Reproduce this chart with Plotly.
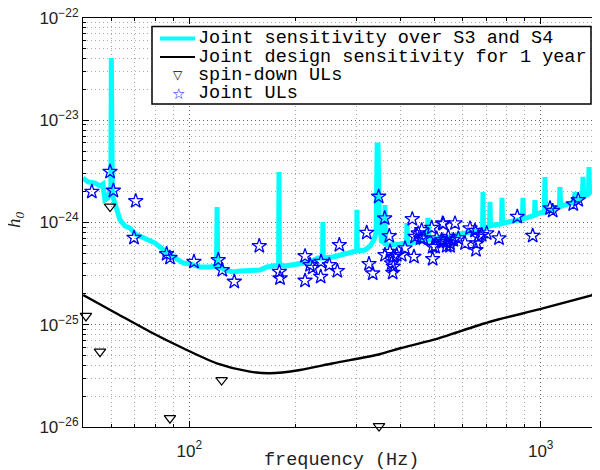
import plotly.graph_objects as go

# ---------------- data ----------------
# Joint sensitivity over S3 and S4 (cyan)
sens_f = [49.8, 51.5, 53.9, 55.7, 56.8, 57.5, 58.7, 59.5, 59.8, 60.0,
          60.2, 60.4, 61.4, 62.7, 63.5, 65.6, 67.8, 70.1, 72.4, 74.8,
          77.3, 79.9, 82.5, 86.4, 91.1, 96.0, 100.5, 107.3, 114.5, 119.5,
          120.0, 120.5, 126.4, 133.1, 139.4, 148.9, 158.9, 166.4, 175.4, 179.5,
          180.0, 180.5, 187.2, 196.0, 206.6, 220.5, 232.4, 239.4, 240.0, 240.6,
          256.4, 268.5, 286.6, 299.3, 300.0, 300.7, 316.2, 326.8, 335.4, 340.0,
          342.5, 344.5, 347.0, 349.0, 352.0, 355.8, 359.5, 360.5, 361.5, 365.2,
          384.9, 397.8, 415.0, 416.5, 418.0, 444.6, 474.8, 477.9, 481.0, 516.9,
          552.0, 589.3, 629.4, 663.2, 683.0, 685.3, 687.6, 698.9, 715.0, 717.5,
          720.0, 736.5, 773.5, 776.2, 779.0, 796.8, 834.1, 887.0, 890.4, 894.0,
          914.1, 950.7, 960.0, 963.3, 966.5, 995.5, 1024.0, 1028.6, 1033.0, 1062.8,
          1130.0, 1134.8, 1140.0, 1172.6, 1211.7, 1247.0, 1252.0, 1257.0, 1276.9, 1314.0,
          1319.5, 1325.0, 1345.7, 1367.0, 1372.4, 1378.0, 1408.9, 1446.3, 1470.0, 1476.0]
sens_h = [2.72e-24, 2.49e-24, 2.43e-24, 2.28e-24, 2.38e-24, 1.66e-24, 1.74e-24, 2.08e-24, 2.0e-24, 4.06e-23,
          1.9e-24, 1.86e-24, 1.55e-24, 1.27e-24, 1.06e-24, 9.24e-25, 8.84e-25, 7.72e-25, 7.38e-25, 7.05e-25,
          6.74e-25, 6.30e-25, 5.76e-25, 5.03e-25, 4.50e-25, 4.02e-25, 3.93e-25, 3.67e-25, 3.67e-25, 3.75e-25,
          1.42e-24, 3.75e-25, 3.43e-25, 3.28e-25, 3.35e-25, 3.35e-25, 3.43e-25, 3.67e-25, 3.75e-25, 3.84e-25,
          3.12e-24, 3.93e-25, 3.75e-25, 3.84e-25, 4.02e-25, 4.11e-25, 4.50e-25, 4.50e-25, 1.01e-24, 4.50e-25,
          4.60e-25, 4.81e-25, 5.15e-25, 5.26e-25, 1.33e-24, 5.26e-25, 5.38e-25, 5.89e-25, 6.74e-25, 8.0e-25,
          5.73e-24, 5.73e-24, 1.1e-24, 7.5e-25, 6.6e-25, 6.45e-25, 6.3e-25, 1.48e-24, 6.2e-25, 6.02e-25,
          6.02e-25, 6.16e-25, 6.30e-25, 9.89e-25, 6.30e-25, 6.45e-25, 6.74e-25, 1.11e-24, 6.74e-25, 7.05e-25,
          7.21e-25, 7.72e-25, 8.07e-25, 8.26e-25, 8.4e-25, 1.99e-24, 8.6e-25, 9.0e-25, 9.2e-25, 1.59e-24,
          9.3e-25, 9.45e-25, 9.7e-25, 1.74e-24, 9.8e-25, 1.0e-24, 1.03e-24, 1.08e-24, 1.74e-24, 1.09e-24,
          1.11e-24, 1.16e-24, 1.18e-24, 1.66e-24, 1.19e-24, 1.24e-24, 1.27e-24, 2.79e-24, 1.28e-24, 1.33e-24,
          1.42e-24, 2.22e-24, 1.44e-24, 1.48e-24, 1.55e-24, 1.6e-24, 1.99e-24, 1.62e-24, 1.68e-24, 1.75e-24,
          2.79e-24, 1.78e-24, 1.85e-24, 1.9e-24, 3.49e-24, 1.95e-24, 2.08e-24, 2.17e-24, 2.2e-24, 2.49e-24]

# Joint design sensitivity for 1 year (black)
design_f = [49.9, 62.1, 77.3, 96.1, 119.7, 148.8, 169.7, 206.6, 256.6, 350.0,
            397.9, 493.8, 717.5, 995.0, 1472.0]
design_h = [1.95e-25, 1.29e-25, 8.55e-26, 5.89e-26, 4.20e-26, 3.48e-26, 3.35e-26, 3.61e-26, 4.20e-26, 5.18e-26,
            5.89e-26, 7.10e-26, 1.07e-25, 1.42e-25, 2.03e-25]

# spin-down upper limits (triangles)
spin_f = [50.8, 55.7, 59.5, 88.1, 123.6, 346.7]
spin_h = [1.22e-25, 5.45e-26, 1.43e-24, 1.22e-26, 2.88e-26, 1.02e-26]

# Joint upper limits (stars)
ul_f = [52.8, 59.5, 60.8, 70.4, 69.6, 86.2, 88.1, 103.1, 120.9, 124.1,
        134.3, 158.2, 180.4, 181.2, 213.5, 213.5, 220.6, 224.5, 237.1, 236.6,
        250.3, 263.8, 267.3, 319.8, 324.6, 332.6, 345.9, 359.8, 370.8, 360.5,
        372.5, 380.7, 376.7, 380.7, 379.2, 389.3, 402.2, 411.0, 431.1, 435.9,
        438.8, 448.4, 458.5, 455.5, 463.4, 489.6, 492.8, 492.8, 526.1, 505.8,
        522.7, 540.1, 528.2, 570.4, 528.2, 545.8, 552.0, 564.1, 583.0, 500.2,
        540.1, 552.0, 609.1, 629.4, 650.1, 657.4, 654.4, 664.3, 679.3, 702.0,
        760.8, 857.9, 949.0, 1063.0, 1082.0, 1238.0, 1279.0]
ul_h = [2.00e-24, 3.14e-24, 2.05e-24, 1.62e-24, 7.10e-25, 4.92e-25, 4.52e-25, 4.13e-25, 4.30e-25, 3.43e-25,
        2.64e-25, 5.89e-25, 3.30e-25, 2.85e-25, 4.70e-25, 2.70e-25, 3.84e-25, 3.61e-25, 4.13e-25, 2.95e-25,
        3.84e-25, 3.36e-25, 6.03e-25, 7.95e-25, 3.93e-25, 3.18e-25, 1.79e-24, 1.10e-24, 7.38e-25, 4.81e-25,
        5.18e-25, 4.63e-25, 3.99e-25, 3.70e-25, 3.23e-25, 4.81e-25, 4.81e-25, 5.59e-25, 1.08e-24, 4.63e-25,
        7.26e-25, 7.84e-25, 8.44e-25, 7.01e-25, 7.01e-25, 8.89e-25, 5.80e-25, 4.40e-25, 9.82e-25, 7.01e-25,
        6.74e-25, 6.49e-25, 9.67e-25, 9.82e-25, 6.49e-25, 7.26e-25, 6.26e-25, 6.74e-25, 7.01e-25, 5.80e-25,
        5.89e-25, 5.89e-25, 6.26e-25, 8.77e-25, 8.31e-25, 6.26e-25, 5.38e-25, 7.26e-25, 7.55e-25, 7.84e-25,
        7.01e-25, 1.14e-24, 7.43e-25, 1.38e-24, 1.30e-24, 1.51e-24, 1.66e-24]

legend_labels = ["Joint sensitivity over S3 and S4",
                 "Joint design sensitivity for 1 year",
                 "spin-down ULs",
                 "Joint ULs"]

x_major = [100, 1000]
x_major_text = ["10<sup>2</sup>", "10<sup>3</sup>"]
y_major = [1e-26, 1e-25, 1e-24, 1e-23, 1e-22]
y_major_text = ["10<sup>\u221226</sup>", "10<sup>\u221225</sup>", "10<sup>\u221224</sup>",
                "10<sup>\u221223</sup>", "10<sup>\u221222</sup>"]

# ---------------- figure ----------------
MONO = "Liberation Mono"
TICKF = "Liberation Sans"

fig = go.Figure()
fig.add_trace(go.Scatter(x=sens_f, y=sens_h, mode="lines",
                         line=dict(color="#00FFFF", width=5), name=legend_labels[0]))
fig.add_trace(go.Scatter(x=design_f, y=design_h, mode="lines",
                         line=dict(color="black", width=2.4, shape="spline", smoothing=0.8),
                         name=legend_labels[1]))
fig.add_trace(go.Scatter(x=spin_f, y=spin_h, mode="markers", cliponaxis=False,
                         marker=dict(symbol="triangle-down-open", size=10, color="black",
                                     line=dict(width=1.2, color="black")),
                         name=legend_labels[2]))
fig.add_trace(go.Scatter(x=ul_f, y=ul_h, mode="markers", cliponaxis=False,
                         marker=dict(symbol="star-open", size=11, color="#0000FF",
                                     line=dict(width=1.3, color="#0000FF")),
                         name=legend_labels[3]))

x_minor = [m * 10 ** k for k in (1, 2, 3) for m in range(2, 10)]
y_minor = [m * 10.0 ** k for k in (-26, -25, -24, -23) for m in range(2, 10)]

grid_dash = "1px,3px"
common = dict(type="log", tickmode="array",
              ticks="inside", ticklen=6, tickcolor="black",
              showline=True, linecolor="black", linewidth=1.2, mirror="ticks",
              showgrid=True, gridcolor="#666666", gridwidth=1, griddash=grid_dash,
              tickfont=dict(family=TICKF, size=17, color="#222222"),
              ticklabeloverflow="allow",
              zeroline=False, automargin=False)
fig.update_xaxes(range=[1.6975, 3.1688], tickvals=x_major, ticktext=x_major_text,
                 ticklabelstandoff=8,
                 minor=dict(tickmode="array", tickvals=x_minor, ticks="inside", ticklen=3,
                            tickcolor="black", showgrid=True, gridcolor="#aaaaaa",
                            griddash=grid_dash, gridwidth=1),
                 **common)
fig.update_yaxes(range=[-26, -22], tickvals=y_major, ticktext=y_major_text,
                 minor=dict(tickmode="array", tickvals=y_minor, ticks="inside", ticklen=3,
                            tickcolor="black", showgrid=True, gridcolor="#aaaaaa",
                            griddash=grid_dash, gridwidth=1),
                 **common)

# The page body has an 8px margin, so the figure is 592x462 and sits at (8, 8).
OFF = 8
FW, FH = 600 - OFF, 470 - OFF
# plot area in page pixels: x 83..600, y 18..427
L, R, T, B = 83, 600, 18, 427
W, H = R - L, B - T
def px(x):
    return (x - L) / W
def py(y):
    return (B - y) / H

shapes = []
annotations = []
# custom legend box
shapes.append(dict(type="rect", xref="paper", yref="paper",
                   x0=px(152), x1=px(591), y0=py(104), y1=py(26.5),
                   line=dict(color="black", width=1.5), fillcolor="white", layer="above"))
row_y = [38.5, 57, 75.5, 93.5]
shapes.append(dict(type="line", xref="paper", yref="paper", x0=px(160), x1=px(195),
                   y0=py(row_y[0]), y1=py(row_y[0]), line=dict(color="#00FFFF", width=4), layer="above"))
shapes.append(dict(type="line", xref="paper", yref="paper", x0=px(160), x1=px(195),
                   y0=py(row_y[1]), y1=py(row_y[1]), line=dict(color="black", width=2), layer="above"))
annotations.append(dict(xref="paper", yref="paper", x=px(178), y=py(row_y[2]), text="\u25BD",
                        showarrow=False, font=dict(family="DejaVu Sans", size=12, color="black"),
                        xanchor="center", yanchor="middle"))
annotations.append(dict(xref="paper", yref="paper", x=px(178), y=py(row_y[3]), text="\u2606",
                        showarrow=False, font=dict(family="DejaVu Sans", size=15, color="#0000FF"),
                        xanchor="center", yanchor="middle"))
for lab, ry in zip(legend_labels, row_y):
    annotations.append(dict(xref="paper", yref="paper", x=px(196), y=py(ry), text=lab,
                            showarrow=False, font=dict(family=MONO, size=18.5, color="black"),
                            xanchor="left", yanchor="middle"))

# axis labels
annotations.append(dict(xref="paper", yref="paper", x=0.5, y=py(460), text="frequency (Hz)",
                        showarrow=False, font=dict(family=MONO, size=18.5, color="#222222"),
                        xanchor="center", yanchor="middle"))
annotations.append(dict(xref="paper", yref="paper", x=px(15), y=py(220),
                        text="<i>h</i><sub><i>0</i></sub>", textangle=-90,
                        showarrow=False, font=dict(family="Liberation Serif", size=19, color="#222222"),
                        xanchor="center", yanchor="middle"))

fig.update_layout(width=FW, height=FH,
                  margin=dict(l=L - OFF, r=FW - (R - OFF), t=T - OFF, b=FH - (B - OFF),
                              pad=0, autoexpand=False),
                  paper_bgcolor="white", plot_bgcolor="white",
                  showlegend=False, shapes=shapes, annotations=annotations)

fig.write_html("out.html")
